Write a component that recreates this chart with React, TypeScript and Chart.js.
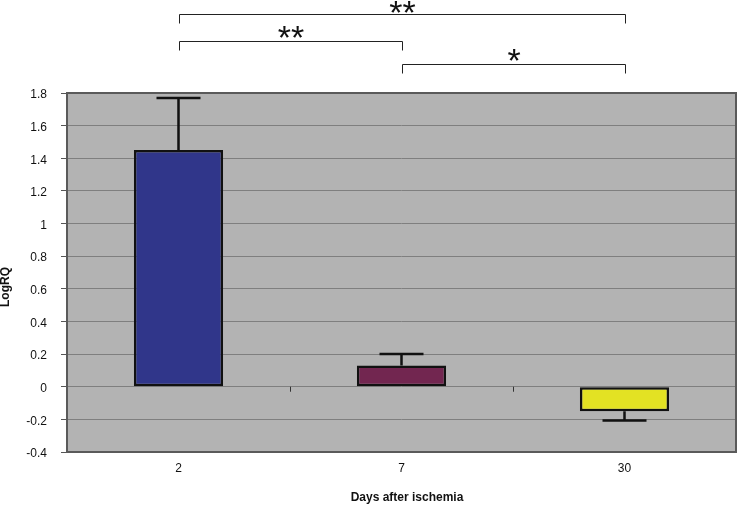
import React, { useEffect, useRef } from "react";
import { Chart, registerables } from "chart.js";

Chart.register(...registerables);

const categories = ["2", "7", "30"];
const means = [1.45, 0.13, -0.15];
const errors = [0.32, 0.07, 0.057];
const barColors = ["#30368a", "#722650", "#e3e223"];
const yTickLabels = ["-0.4", "-0.2", "0", "0.2", "0.4", "0.6", "0.8", "1", "1.2", "1.4", "1.6", "1.8"];
const brackets = [
  { from: 0, to: 2, label: "**", y: 14 },
  { from: 0, to: 1, label: "**", y: 41 },
  { from: 1, to: 2, label: "*", y: 64 },
];

const FONT = "'Liberation Sans', Arial, sans-serif";

const decorPlugin = {
  id: "decor",
  beforeDraw(chart: any) {
    const { ctx, chartArea: a } = chart;
    ctx.save();
    ctx.fillStyle = "#b3b3b3";
    ctx.fillRect(a.left, a.top, a.right - a.left, a.bottom - a.top);
    ctx.restore();
  },
  afterDatasetsDraw(chart: any) {
    const { ctx, chartArea: a, scales } = chart;
    const x = scales.x;
    const y = scales.y;
    ctx.save();
    // error bars
    ctx.strokeStyle = "#111";
    ctx.lineWidth = 2.5;
    means.forEach((m, i) => {
      const cx = x.getPixelForValue(i);
      const end = m >= 0 ? m + errors[i] : m - errors[i];
      const y0 = y.getPixelForValue(m);
      const y1 = y.getPixelForValue(end);
      ctx.beginPath();
      ctx.moveTo(cx, y0);
      ctx.lineTo(cx, y1);
      ctx.moveTo(cx - 22, y1);
      ctx.lineTo(cx + 22, y1);
      ctx.stroke();
    });
    // category ticks at zero line
    const y0 = y.getPixelForValue(0);
    ctx.lineWidth = 1;
    ctx.strokeStyle = "#333";
    for (let i = 0; i < categories.length - 1; i++) {
      const bx = Math.round((x.getPixelForValue(i) + x.getPixelForValue(i + 1)) / 2) + 0.5;
      ctx.beginPath();
      ctx.moveTo(bx, y0);
      ctx.lineTo(bx, y0 + 5);
      ctx.stroke();
    }
    // frame
    ctx.strokeStyle = "#5a5a5a";
    ctx.lineWidth = 2;
    ctx.strokeRect(a.left, a.top, a.right - a.left, a.bottom - a.top);
    // brackets
    ctx.strokeStyle = "#222";
    ctx.lineWidth = 1;
    ctx.fillStyle = "#111";
    ctx.font = `34px ${FONT}`;
    ctx.textAlign = "center";
    ctx.textBaseline = "alphabetic";
    brackets.forEach((b, k) => {
      const x1 = Math.round(x.getPixelForValue(b.from)) + 0.5;
      const x2 = Math.round(x.getPixelForValue(b.to)) + 0.5;
      const by = b.y + 0.5;
      ctx.beginPath();
      ctx.moveTo(x1, by + 9);
      ctx.lineTo(x1, by);
      ctx.lineTo(x2, by);
      ctx.lineTo(x2, by + 9);
      ctx.stroke();
      ctx.fillText(b.label, (x1 + x2) / 2, b.y + (k === 0 ? 10 : 8));
    });
    // axis titles
    ctx.font = `bold 12px ${FONT}`;
    ctx.textBaseline = "middle";
    ctx.fillText("Days after ischemia", 407, 498);
    ctx.translate(6, 287);
    ctx.rotate(-Math.PI / 2);
    ctx.fillText("LogRQ", 0, 0);
    ctx.restore();
  },
};

export default function App() {
  const ref = useRef<HTMLCanvasElement | null>(null);
  useEffect(() => {
    if (!ref.current) return;
    const chart = new Chart(ref.current, {
      type: "bar",
      data: {
        labels: categories,
        datasets: [
          {
            data: means,
            backgroundColor: barColors,
            borderColor: "#111",
            borderWidth: 2.5,
            borderSkipped: false,
            barPercentage: 0.4,
            categoryPercentage: 1,
          },
        ],
      },
      options: {
        animation: false,
        responsive: false,
        maintainAspectRatio: false,
        layout: { padding: { left: 0, right: 2, top: 93, bottom: 0 } },
        plugins: { legend: { display: false }, tooltip: { enabled: false } },
        scales: {
          x: {
            grid: { display: false, drawTicks: false },
            border: { display: false },
            ticks: { color: "#111", font: { family: FONT, size: 12 }, padding: 9 },
            afterFit: (s: any) => {
              s.height = 53;
            },
          },
          y: {
            min: -0.4,
            max: 1.8,
            border: { display: false },
            grid: { color: "#7f7f7f", lineWidth: 1, tickLength: 6, drawTicks: true, tickColor: "#555" },
            ticks: {
              stepSize: 0.2,
              color: "#111",
              font: { family: FONT, size: 12 },
              padding: 14,
              labelOffset: 2,
              callback: (v: any) => {
                const idx = Math.round((Number(v) + 0.4) / 0.2);
                return yTickLabels[idx] ?? "";
              },
            },
            afterFit: (s: any) => {
              s.width = 67;
            },
          },
        },
      },
      plugins: [decorPlugin],
    });
    return () => chart.destroy();
  }, []);
  return (
    <div style={{ position: "fixed", left: 0, top: 0, width: 738, height: 505, background: "#fff" }}>
      <canvas ref={ref} width={738} height={505} style={{ width: 738, height: 505 }} />
    </div>
  );
}
